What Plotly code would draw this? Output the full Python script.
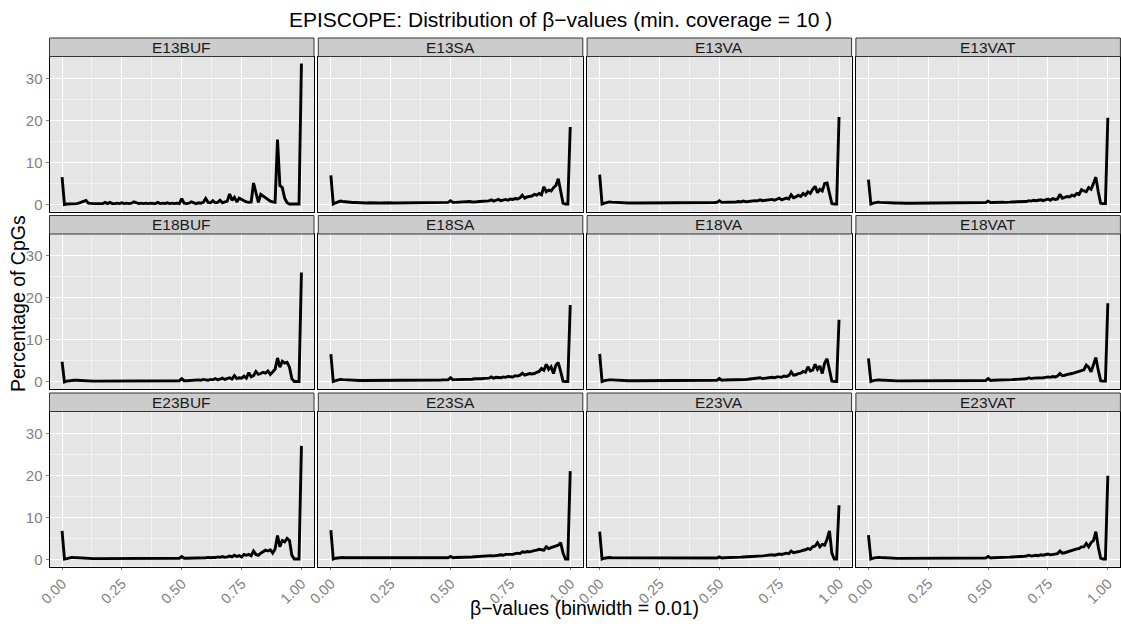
import plotly.graph_objects as go

# ---------------- data ----------------
bins = [round(i * 0.01, 2) for i in range(101)]  # beta-value bin centres

panel_names = ["E13BUF", "E13SA", "E13VA", "E13VAT",
               "E18BUF", "E18SA", "E18VA", "E18VAT",
               "E23BUF", "E23SA", "E23VA", "E23VAT"]

E13BUF = [6.5, 0.0, 0.1, 0.1, 0.2, 0.2, 0.2, 0.3, 0.5, 0.7,
          0.95, 0.3, 0.2, 0.2, 0.2, 0.2, 0.3, 0.2, 0.5, 0.2,
          0.5, 0.2, 0.2, 0.3, 0.2, 0.4, 0.2, 0.3, 0.2, 0.3,
          0.6, 0.3, 0.2, 0.3, 0.2, 0.3, 0.2, 0.3, 0.2, 0.2,
          0.5, 0.2, 0.3, 0.2, 0.4, 0.2, 0.3, 0.2, 0.3, 0.2,
          1.4, 0.3, 0.2, 0.3, 0.6, 0.3, 0.2, 0.4, 0.3, 0.5,
          1.4, 0.5, 0.4, 0.9, 0.4, 0.5, 1.0, 0.4, 0.6, 0.8,
          2.5, 1.0, 1.7, 0.6, 1.5, 1.2, 0.8, 0.6, 0.5, 0.6,
          5.1, 3.0, 0.5, 2.4, 2.0, 1.5, 1.0, 0.8, 0.6, 0.5,
          15.4, 4.5, 4.0, 1.5, 0.4, 0.1, 0.1, 0.1, 0.1, 0.1,
          33.5]

E13SA = [6.9, 0.1, 0.4, 0.7, 0.8, 0.7, 0.6, 0.5, 0.5, 0.45,
         0.45, 0.4, 0.4, 0.4, 0.4, 0.35, 0.4, 0.35, 0.35, 0.4,
         0.35, 0.35, 0.4, 0.35, 0.35, 0.4, 0.35, 0.35, 0.4, 0.35,
         0.4, 0.35, 0.4, 0.4, 0.35, 0.4, 0.4, 0.4, 0.45, 0.4,
         0.4, 0.45, 0.4, 0.45, 0.45, 0.4, 0.45, 0.5, 0.45, 0.5,
         0.9, 0.5, 0.5, 0.55, 0.5, 0.6, 0.55, 0.6, 0.7, 0.6,
         0.7, 0.65, 0.7, 0.75, 0.7, 0.8, 0.85, 1.1, 0.8, 1.0,
         1.2, 0.9, 1.1, 1.2, 1.0, 1.3, 1.2, 1.4, 1.3, 1.6,
         2.2, 1.5, 1.8, 1.9, 2.0, 2.4, 2.2, 2.6, 2.3, 4.2,
         3.0, 3.4, 3.2, 4.0, 4.5, 6.1, 3.0, 0.3, 0.1, 0.1,
         18.4]

E13VA = [7.1, 0.1, 0.3, 0.5, 0.6, 0.55, 0.5, 0.45, 0.4, 0.4,
         0.4, 0.4, 0.35, 0.35, 0.4, 0.35, 0.35, 0.35, 0.35, 0.35,
         0.35, 0.35, 0.35, 0.3, 0.35, 0.35, 0.35, 0.3, 0.35, 0.35,
         0.35, 0.35, 0.3, 0.35, 0.35, 0.35, 0.4, 0.35, 0.35, 0.4,
         0.4, 0.4, 0.4, 0.4, 0.45, 0.4, 0.45, 0.45, 0.45, 0.5,
         0.9, 0.5, 0.5, 0.55, 0.5, 0.55, 0.6, 0.6, 0.7, 0.6,
         0.8, 0.65, 0.7, 0.8, 0.75, 0.9, 0.85, 1.1, 0.9, 1.0,
         1.0, 1.1, 1.2, 1.0, 1.3, 1.5, 1.1, 1.4, 1.5, 1.3,
         2.3, 1.6, 1.8, 2.2, 1.9, 2.6, 2.2, 3.0, 2.6, 3.6,
         4.3, 2.8, 3.6, 3.2, 5.0, 5.1, 2.8, 0.2, 0.1, 0.1,
         20.8]

E13VAT = [5.9, 0.1, 0.3, 0.5, 0.55, 0.5, 0.45, 0.4, 0.4, 0.35,
          0.35, 0.35, 0.35, 0.3, 0.3, 0.3, 0.3, 0.3, 0.3, 0.3,
          0.3, 0.3, 0.3, 0.3, 0.3, 0.3, 0.3, 0.3, 0.3, 0.3,
          0.3, 0.3, 0.3, 0.3, 0.3, 0.3, 0.3, 0.35, 0.3, 0.35,
          0.35, 0.35, 0.35, 0.35, 0.4, 0.35, 0.4, 0.4, 0.4, 0.45,
          0.8, 0.45, 0.45, 0.5, 0.45, 0.5, 0.55, 0.5, 0.6, 0.55,
          0.6, 0.6, 0.65, 0.7, 0.65, 0.75, 0.7, 0.9, 0.8, 1.0,
          0.9, 1.0, 1.1, 0.9, 1.2, 1.3, 1.0, 1.4, 1.2, 1.3,
          2.4, 1.5, 1.7, 1.9, 1.8, 2.2, 2.0, 2.6, 2.4, 3.5,
          3.2, 3.0, 4.0, 3.6, 5.0, 6.5, 3.0, 0.3, 0.2, 0.2,
          20.6]

E18BUF = [4.8, 0.0, 0.2, 0.3, 0.4, 0.4, 0.4, 0.35, 0.3, 0.3,
          0.3, 0.25, 0.2, 0.2, 0.2, 0.2, 0.2, 0.2, 0.2, 0.2,
          0.2, 0.2, 0.2, 0.2, 0.2, 0.2, 0.2, 0.2, 0.2, 0.2,
          0.2, 0.25, 0.2, 0.25, 0.2, 0.3, 0.2, 0.25, 0.3, 0.2,
          0.3, 0.25, 0.3, 0.2, 0.3, 0.25, 0.3, 0.3, 0.25, 0.3,
          0.8, 0.3, 0.3, 0.35, 0.3, 0.4, 0.35, 0.5, 0.4, 0.6,
          0.5, 0.4, 0.6, 0.5, 0.8, 0.5, 0.7, 0.9, 0.6, 0.8,
          1.0, 0.7, 1.5, 0.8, 1.0, 0.9, 1.4, 0.9, 2.2, 1.2,
          1.5, 2.5, 1.8, 2.0, 2.3, 2.1, 2.6, 1.8, 2.4, 3.0,
          5.7, 3.5, 4.9, 4.5, 4.7, 3.5, 0.8, 0.1, 0.1, 0.1,
          26.0]

E18SA = [6.6, 0.1, 0.3, 0.5, 0.6, 0.55, 0.5, 0.45, 0.4, 0.4,
         0.4, 0.35, 0.35, 0.35, 0.35, 0.35, 0.35, 0.3, 0.35, 0.35,
         0.35, 0.3, 0.35, 0.35, 0.3, 0.35, 0.35, 0.35, 0.3, 0.35,
         0.35, 0.35, 0.35, 0.35, 0.4, 0.35, 0.35, 0.4, 0.4, 0.4,
         0.4, 0.4, 0.45, 0.4, 0.45, 0.45, 0.45, 0.5, 0.45, 0.5,
         1.0, 0.5, 0.55, 0.55, 0.6, 0.55, 0.6, 0.65, 0.7, 0.65,
         0.75, 0.7, 0.8, 0.75, 0.85, 0.8, 0.9, 1.2, 0.9, 1.1,
         1.1, 1.0, 1.2, 1.1, 1.3, 1.3, 1.2, 1.5, 1.4, 1.6,
         2.1, 1.6, 1.8, 2.0, 1.9, 2.0, 2.3, 2.5, 3.2, 2.8,
         4.2, 3.0, 3.6, 2.0, 4.0, 4.6, 2.5, 0.2, 0.1, 0.1,
         18.3]

E18VA = [6.7, 0.1, 0.3, 0.45, 0.5, 0.5, 0.45, 0.4, 0.35, 0.35,
         0.35, 0.3, 0.3, 0.3, 0.3, 0.3, 0.3, 0.3, 0.3, 0.3,
         0.3, 0.3, 0.3, 0.3, 0.3, 0.3, 0.3, 0.3, 0.3, 0.3,
         0.3, 0.3, 0.3, 0.3, 0.3, 0.3, 0.3, 0.35, 0.3, 0.35,
         0.35, 0.35, 0.35, 0.35, 0.35, 0.35, 0.4, 0.4, 0.4, 0.4,
         0.8, 0.4, 0.45, 0.45, 0.45, 0.5, 0.5, 0.55, 0.55, 0.6,
         0.6, 0.6, 0.65, 0.7, 0.7, 0.75, 0.8, 1.0, 0.8, 0.9,
         1.0, 1.0, 1.1, 1.0, 1.2, 1.2, 1.1, 1.4, 1.3, 1.5,
         2.4, 1.6, 1.7, 2.0, 2.1, 2.5, 2.3, 3.6, 2.6, 2.8,
         4.2, 3.0, 3.8, 2.0, 4.5, 5.5, 2.5, 0.2, 0.1, 0.1,
         14.8]

E18VAT = [5.6, 0.1, 0.3, 0.45, 0.5, 0.45, 0.4, 0.35, 0.3, 0.3,
          0.3, 0.3, 0.25, 0.25, 0.25, 0.25, 0.25, 0.25, 0.25, 0.25,
          0.25, 0.25, 0.25, 0.25, 0.25, 0.25, 0.25, 0.25, 0.25, 0.25,
          0.25, 0.25, 0.25, 0.3, 0.25, 0.3, 0.25, 0.3, 0.3, 0.3,
          0.3, 0.3, 0.3, 0.3, 0.35, 0.3, 0.35, 0.35, 0.35, 0.35,
          0.8, 0.35, 0.4, 0.4, 0.4, 0.45, 0.45, 0.5, 0.5, 0.55,
          0.55, 0.6, 0.6, 0.65, 0.65, 0.7, 0.75, 1.0, 0.8, 0.9,
          0.9, 1.0, 1.0, 1.0, 1.1, 1.2, 1.1, 1.3, 1.2, 1.4,
          2.0, 1.5, 1.6, 1.8, 1.9, 2.0, 2.2, 2.3, 2.6, 2.7,
          2.9, 4.0, 3.5, 2.4, 4.2, 5.8, 2.8, 0.3, 0.2, 0.2,
          18.7]

E23BUF = [6.8, 0.1, 0.2, 0.4, 0.5, 0.45, 0.4, 0.35, 0.3, 0.3,
          0.3, 0.25, 0.25, 0.2, 0.2, 0.2, 0.2, 0.2, 0.2, 0.2,
          0.2, 0.2, 0.25, 0.2, 0.2, 0.2, 0.25, 0.2, 0.2, 0.2,
          0.2, 0.25, 0.2, 0.25, 0.2, 0.2, 0.25, 0.2, 0.25, 0.2,
          0.25, 0.2, 0.3, 0.2, 0.25, 0.3, 0.2, 0.3, 0.25, 0.3,
          0.7, 0.3, 0.3, 0.3, 0.35, 0.3, 0.4, 0.3, 0.4, 0.35,
          0.4, 0.5, 0.4, 0.5, 0.45, 0.6, 0.5, 0.7, 0.5, 0.6,
          0.8, 0.6, 1.0, 0.7, 0.9, 0.6, 1.2, 1.0, 1.2, 0.9,
          2.0, 1.2, 1.0, 1.5, 1.8, 2.2, 2.0, 2.3, 1.5, 2.5,
          5.7, 3.0, 4.5, 4.2, 5.0, 4.5, 1.0, 0.1, 0.1, 0.1,
          27.0]

E23SA = [7.0, 0.1, 0.3, 0.4, 0.45, 0.45, 0.4, 0.4, 0.35, 0.35,
         0.35, 0.3, 0.3, 0.3, 0.3, 0.3, 0.3, 0.3, 0.3, 0.3,
         0.3, 0.3, 0.3, 0.3, 0.3, 0.3, 0.3, 0.3, 0.3, 0.3,
         0.3, 0.3, 0.3, 0.3, 0.3, 0.35, 0.3, 0.3, 0.35, 0.35,
         0.35, 0.35, 0.35, 0.35, 0.4, 0.35, 0.4, 0.4, 0.4, 0.4,
         0.7, 0.4, 0.45, 0.45, 0.45, 0.5, 0.5, 0.55, 0.6, 0.6,
         0.65, 0.7, 0.7, 0.75, 0.75, 0.8, 0.8, 0.9, 0.85, 1.0,
         1.0, 1.1, 1.0, 1.2, 1.2, 1.3, 1.2, 1.4, 1.5, 1.4,
         1.8, 1.7, 1.9, 1.8, 2.0, 2.1, 2.2, 2.4, 2.3, 2.2,
         3.0, 2.6, 2.8, 3.0, 3.2, 3.4, 4.0, 1.5, 0.1, 0.1,
         21.0]

E23VA = [6.6, 0.1, 0.3, 0.4, 0.45, 0.4, 0.4, 0.35, 0.35, 0.3,
         0.3, 0.3, 0.3, 0.3, 0.3, 0.3, 0.3, 0.3, 0.3, 0.3,
         0.3, 0.3, 0.3, 0.3, 0.3, 0.3, 0.3, 0.3, 0.3, 0.3,
         0.3, 0.3, 0.3, 0.3, 0.3, 0.3, 0.3, 0.3, 0.35, 0.3,
         0.35, 0.3, 0.35, 0.35, 0.35, 0.35, 0.35, 0.35, 0.35, 0.35,
         0.6, 0.35, 0.4, 0.4, 0.45, 0.45, 0.5, 0.5, 0.55, 0.55,
         0.6, 0.6, 0.65, 0.7, 0.7, 0.75, 0.8, 0.9, 0.85, 0.9,
         1.0, 1.0, 1.1, 1.0, 1.2, 1.3, 1.2, 1.3, 1.5, 1.4,
         2.0, 1.6, 1.7, 1.9, 2.0, 2.2, 2.3, 2.6, 2.4, 3.0,
         3.2, 4.0, 3.0, 3.6, 3.4, 4.8, 6.8, 1.5, 0.1, 0.1,
         12.9]

E23VAT = [5.8, 0.1, 0.3, 0.45, 0.5, 0.45, 0.4, 0.35, 0.3, 0.3,
          0.3, 0.25, 0.25, 0.25, 0.25, 0.25, 0.25, 0.25, 0.25, 0.25,
          0.25, 0.25, 0.25, 0.25, 0.25, 0.25, 0.25, 0.25, 0.25, 0.25,
          0.25, 0.25, 0.3, 0.25, 0.3, 0.25, 0.3, 0.3, 0.3, 0.3,
          0.3, 0.3, 0.3, 0.3, 0.35, 0.3, 0.35, 0.35, 0.35, 0.35,
          0.7, 0.35, 0.4, 0.4, 0.45, 0.45, 0.5, 0.5, 0.55, 0.55,
          0.6, 0.6, 0.65, 0.7, 0.7, 0.75, 0.8, 1.0, 0.8, 0.9,
          1.0, 0.9, 1.1, 1.0, 1.2, 1.3, 1.1, 1.2, 1.3, 1.4,
          2.0, 1.5, 1.6, 1.8, 2.0, 2.1, 2.3, 2.5, 2.6, 3.0,
          3.0, 3.8, 3.0, 4.0, 4.5, 6.6, 3.0, 0.3, 0.1, 0.1,
          19.9]

series = [E13BUF, E13SA, E13VA, E13VAT,
          E18BUF, E18SA, E18VA, E18VAT,
          E23BUF, E23SA, E23VA, E23VAT]

x_tick_vals = [0.0, 0.25, 0.5, 0.75, 1.0]
x_tick_text = ["0.00", "0.25", "0.50", "0.75", "1.00"]
y_tick_vals = [0, 10, 20, 30]
y_tick_text = ["0", "10", "20", "30"]

title_text = "EPISCOPE: Distribution of \u03b2\u2212values (min. coverage = 10 )"
x_title = "\u03b2\u2212values (binwidth = 0.01)"
y_title = "Percentage of CpGs"

# ---------------- layout geometry (pixels) ----------------
W, H = 1121, 624
col_left = [49.5, 318.3, 587.1, 855.9]
panel_w = 264.5
row_top = [56.5, 234.0, 411.5]
panel_h = 155.0
strip_h = 18.5

FONT = "Liberation Sans, Arial, Helvetica, sans-serif"
TICK_GREY = "#7F7F7F"

fig = go.Figure()
layout = dict(
    width=W, height=H,
    margin=dict(l=0, r=0, t=0, b=0, autoexpand=False),
    paper_bgcolor="white",
    plot_bgcolor="#E5E5E5",
    showlegend=False,
    font=dict(family=FONT, color="black"),
)
shapes = []
annotations = []

for k, (name, vals) in enumerate(zip(panel_names, series)):
    r, c = divmod(k, 4)
    idx = k + 1
    xa = "x" if idx == 1 else f"x{idx}"
    ya = "y" if idx == 1 else f"y{idx}"
    fig.add_trace(go.Scatter(
        x=bins, y=vals, mode="lines",
        line=dict(color="black", width=2.9),
        xaxis=xa, yaxis=ya, hoverinfo="skip",
    ))
    x0 = col_left[c] / W
    x1 = (col_left[c] + panel_w) / W
    ytop = 1 - row_top[r] / H
    ybot = 1 - (row_top[r] + panel_h) / H
    bottom = (r == 2)
    left = (c == 0)
    layout["xaxis" if idx == 1 else f"xaxis{idx}"] = dict(
        domain=[x0, x1], anchor=ya, range=[-0.0525, 1.0525], automargin=False,
        tickmode="array", tickvals=x_tick_vals, ticktext=x_tick_text,
        showticklabels=bottom, ticks="outside" if bottom else "",
        ticklen=2, tickcolor=TICK_GREY, tickangle=-45,
        tickfont=dict(size=14.5, color=TICK_GREY, family=FONT),
        showgrid=True, gridcolor="white", gridwidth=1.1,
        minor=dict(tickvals=[0.125, 0.375, 0.625, 0.875], showgrid=True,
                   gridcolor="#F2F2F2", gridwidth=0.6, ticks=""),
        zeroline=False, showline=True, mirror=True,
        linecolor="black", linewidth=1, fixedrange=True,
    )
    layout["yaxis" if idx == 1 else f"yaxis{idx}"] = dict(
        domain=[ybot, ytop], anchor=xa, range=[-1.675, 35.175], automargin=False,
        tickmode="array", tickvals=y_tick_vals, ticktext=y_tick_text,
        showticklabels=left, ticks="outside" if left else "",
        ticklen=3, tickcolor=TICK_GREY,
        tickfont=dict(size=15, color=TICK_GREY, family=FONT),
        showgrid=True, gridcolor="white", gridwidth=1.1,
        minor=dict(tickvals=[5, 15, 25, 35], showgrid=True,
                   gridcolor="#F2F2F2", gridwidth=0.6, ticks=""),
        zeroline=False, showline=True, mirror=True,
        linecolor="black", linewidth=1, fixedrange=True,
    )
    # strip
    s_top = 1 - (row_top[r] - strip_h) / H
    shapes.append(dict(type="rect", xref="paper", yref="paper",
                       x0=x0, x1=x1, y0=ytop, y1=s_top,
                       fillcolor="#CCCCCC", line=dict(color="#333333", width=1),
                       layer="above"))
    annotations.append(dict(text=name, xref="paper", yref="paper",
                            x=(x0 + x1) / 2, y=(ytop + s_top) / 2,
                            xanchor="center", yanchor="middle", showarrow=False,
                            font=dict(size=15.5, color="#1A1A1A", family=FONT)))

annotations.append(dict(text=title_text, xref="paper", yref="paper",
                        x=0.5, y=1 - 19 / H, xanchor="center", yanchor="middle",
                        showarrow=False, font=dict(size=21, color="black", family=FONT)))
annotations.append(dict(text=x_title, xref="paper", yref="paper",
                        x=(col_left[0] + col_left[3] + panel_w) / 2 / W, y=1 - 608 / H,
                        xanchor="center", yanchor="middle",
                        showarrow=False, font=dict(size=19.5, color="black", family=FONT)))
annotations.append(dict(text=y_title, xref="paper", yref="paper",
                        x=18 / W, y=1 - 304 / H, xanchor="center", yanchor="middle",
                        textangle=-90,
                        showarrow=False, font=dict(size=19.5, color="black", family=FONT)))

layout["shapes"] = shapes
layout["annotations"] = annotations
fig.update_layout(**layout)

fig.write_html("out.html")
